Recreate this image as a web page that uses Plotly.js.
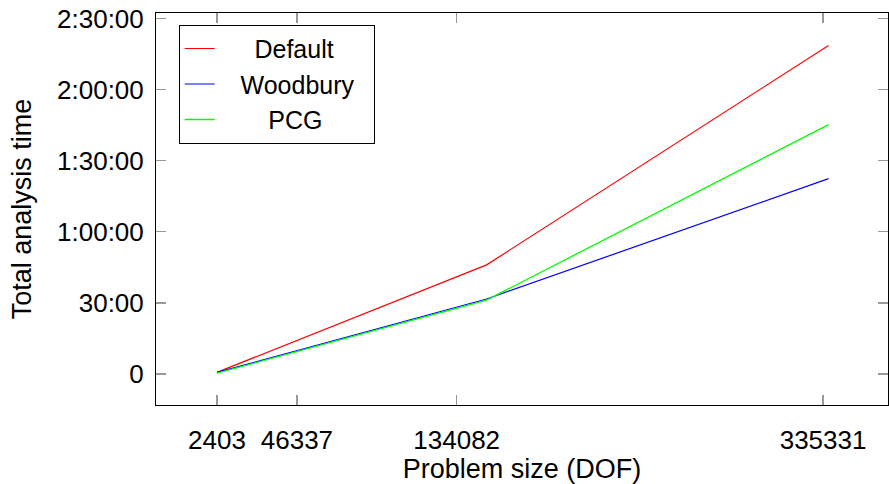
<!DOCTYPE html>
<html>
<head>
<meta charset="utf-8">
<script src="https://cdn.plot.ly/plotly-3.0.1.min.js"></script>
<style>html,body{margin:0;padding:0;background:#fff;}#chart{width:889px;height:484px;}</style>
</head>
<body>
<div id="chart"></div>
<script>
// Problem size (DOF) of the plotted points
const dofPoints = [2403, 150540, 338350];
// Total analysis time in seconds
const defaultTimes = [43, 2763, 8317];
const woodburyTimes = [40, 1900, 4947];
const pcgTimes = [20, 1872, 6312];

const seriesNames = ['Default', 'Woodbury', 'PCG'];
const xTickVals = [2403, 46337, 134082, 335331];
const yTickVals = [0, 1800, 3600, 5400, 7200, 9000];
const yTickText = ['0', '30:00', '1:00:00', '1:30:00', '2:00:00', '2:30:00'];

const FONT = 'Liberation Sans, Arial, sans-serif';
const pad = n => '\u00a0'.repeat(n);

const traces = [
  {x: dofPoints, y: defaultTimes, name: pad(5) + seriesNames[0], mode: 'lines', line: {color: '#ff0000', width: 1.2}},
  {x: dofPoints, y: woodburyTimes, name: pad(3) + seriesNames[1] + pad(2), mode: 'lines', line: {color: '#0000ff', width: 1.2}},
  {x: dofPoints, y: pcgTimes, name: pad(7) + seriesNames[2], mode: 'lines', line: {color: '#00ff00', width: 1.3}}
];

const axisCommon = {
  showline: true, linecolor: '#000', linewidth: 1, mirror: 'ticks',
  ticks: 'inside', ticklen: 10, tickwidth: 1.3, tickcolor: '#999',
  showgrid: false, zeroline: false,
  tickfont: {family: FONT, size: 26, color: '#000'}
};

const layout = {
  width: 889, height: 484,
  margin: {l: 155.5, r: 0.5, t: 12.5, b: 79},
  paper_bgcolor: '#fff', plot_bgcolor: '#fff',
  showlegend: true,
  font: {family: FONT, color: '#000'},
  xaxis: Object.assign({}, axisCommon, {
    range: [-31065, 370997],
    tickmode: 'array', tickvals: xTickVals, ticktext: xTickVals.map(String),
    ticklabelstandoff: 12,
    title: {text: 'Problem size (DOF)', font: {family: FONT, size: 27, color: '#000'}, standoff: 16}
  }),
  yaxis: Object.assign({}, axisCommon, {
    range: [-784, 9138],
    tickmode: 'array', tickvals: yTickVals, ticktext: yTickText,
    ticklabelstandoff: 6,
    title: {text: 'Total analysis time', font: {family: FONT, size: 27, color: '#000'}, standoff: 17}
  }),
  legend: {
    x: 0.031, y: 0.97, xanchor: 'left', yanchor: 'top',
    bgcolor: '#fff', bordercolor: '#000', borderwidth: 1,
    font: {family: FONT, size: 25, color: '#000'},
    tracegroupgap: 0
  }
};

Plotly.newPlot('chart', traces, layout, {displayModeBar: false, staticPlot: true});
</script>
</body>
</html>
